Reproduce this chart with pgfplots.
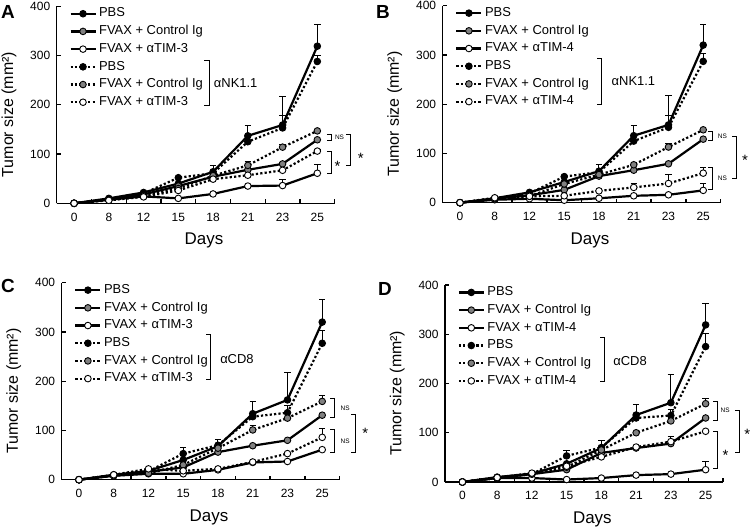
\documentclass[border=0pt]{standalone}
\usepackage{fontspec}
\setmainfont{Liberation Sans}
\usepackage{pgfplots}
\usepackage{pgfplotstable}
\pgfplotsset{compat=1.18}
\definecolor{mgray}{RGB}{128,128,128}

\pgfplotstableread{
x ps pse cs cse ts tse pd pde cd cde td tde
0 0 0 0 0 0 0 0 0 0 0 0 0
1 10 0 8 0 7 0 8 0 7 0 6 0
2 22 0 18 0 14 0 20 0 15 0 13 0
3 40 0 35 0 10 0 52 0 30 0 26 0
4 64 12 54 0 19 0 61 0 56 0 49 0
5 137 20 68 0 35 0 125 0 77 8 57 0
6 159 58 80 3 36 13 153 25 114 6 67 0
7 319 44 129 0 61 18 288 13 147 0 106 4
}\dataA
\pgfplotstableread{
x ps pse cs cse ts tse pd pde cd cde td tde
0 0 0 0 0 0 0 0 0 0 0 0 0
1 9 0 8 0 6 0 8 0 8 0 10 0
2 21 0 15 0 8 0 19 0 13 0 13 0
3 42 0 26 0 5 0 53 0 38 0 14 0
4 64 13 54 0 9 0 62 0 57 0 24 0
5 136 20 66 0 14 0 125 0 77 5 31 8
6 158 59 79 0 16 0 153 25 113 8 39 18
7 320 42 129 0 25 14 287 15 148 0 60 12
}\dataB
\pgfplotstableread{
x ps pse cs cse ts tse pd pde cd cde td tde
0 0 0 0 0 0 0 0 0 0 0 0 0
1 10 0 9 0 8 0 9 0 8 0 10 0
2 18 0 16 0 12 0 17 0 13 0 22 0
3 40 0 25 0 12 0 53 12 30 0 18 0
4 68 13 56 0 20 0 70 0 64 0 22 0
5 134 25 69 0 35 0 128 0 101 9 36 0
6 162 56 80 0 37 0 136 14 125 0 53 0
7 320 45 131 0 61 0 277 26 159 12 86 18
}\dataC
\pgfplotstableread{
x ps pse cs cse ts tse pd pde cd cde td tde
0 0 0 0 0 0 0 0 0 0 0 0 0
1 10 0 8 0 8 0 9 0 8 0 9 0
2 17 0 16 0 8 0 16 0 16 0 18 0
3 37 0 25 0 5 0 53 10 30 0 32 0
4 69 15 59 0 8 0 70 0 65 0 51 0
5 136 22 69 0 14 0 130 0 100 0 71 0
6 161 58 78 0 16 0 135 12 124 0 82 11
7 319 44 130 0 25 16 275 26 159 11 103 0
}\dataD

\pgfplotsset{
  solidline/.style={line width=2.2bp, black, solid},
  dotline/.style={line width=2.2bp, black, dash pattern=on 2.2bp off 2.2bp},
  mk/.style={mark=*, mark size=3.3bp, mark options={solid, draw=black, line width=0.9bp, fill=#1}},
  panel/.style={
    width=278bp, height=197bp, scale only axis,
    xmin=-0.5, xmax=7.5, ymin=0, ymax=400,
    axis x line*=bottom, axis y line*=left,
    xtick={0,...,7}, xticklabels={0,8,12,15,18,21,23,25},
    major x tick style={draw=none},
    minor xtick={0.5,1.5,...,7.5},
    ytick={0,100,200,300,400},
    tick align=inside,
    major tick length=4bp, minor tick length=4bp,
    axis line style={line width=1.3bp},
    every tick/.style={black, line width=1.3bp},
    tick label style={font=\fontsize{12}{12}\selectfont},
    xticklabel style={yshift=-6bp},
    yticklabel style={xshift=-3bp},
    /pgf/number format/assume math mode=true,
    xlabel={Days}, ylabel={Tumor size (mm²)},
    label style={font=\fontsize{16}{16}\selectfont},
    xlabel style={font=\fontsize{17}{17}\selectfont, at={(axis description cs:0.53,-0.19)}, anchor=center},
    ylabel style={at={(axis description cs:-0.172,0.45)}, anchor=center},
    clip=false,
    legend style={draw=none, fill=none, inner sep=0pt, row sep=5.6bp,
      font=\fontsize{13}{13}\selectfont,
      at={(axis description cs:0.045,0.994)}, anchor=north west,
      nodes={inner ysep=0pt, inner xsep=2.5bp, text height=9.3bp, text depth=2.8bp}},
    legend cell align=left,
    legend image code/.code={\draw[mark repeat=2,mark phase=2,#1] plot coordinates {(0bp,0bp) (12.5bp,0bp) (25bp,0bp)};},
    error bars/y dir=plus, error bars/y explicit,
    error bars/error mark=-,
    error bars/error bar style={line width=1bp, black, solid},
    error bars/error mark options={rotate=90, line width=1bp, mark size=3.2bp, black, solid},
  },
}
\tikzset{
  sig/.style={line width=0.8bp, black},
  nsf/.style={font=\fontsize{6.5}{7}\selectfont, inner sep=0pt},
  starf/.style={font=\fontsize{15}{15}\selectfont, inner sep=0pt, yshift=-3bp},
  grpf/.style={font=\fontsize{13}{13}\selectfont, inner sep=0pt, anchor=west},
  letf/.style={font=\fontsize{19}{19}\bfseries\selectfont, inner sep=0pt},
}
\newcommand{\brk}[3]{\draw[sig] ([xshift=-4.5bp]axis cs:#1,#2) -- (axis cs:#1,#2) -- (axis cs:#1,#3) -- ([xshift=-4.5bp]axis cs:#1,#3);}

\begin{document}
\begin{tikzpicture}
\useasboundingbox (0,0) rectangle (750bp,527bp);

% ---------- A ----------
\begin{axis}[panel, at={(56.7bp,323.7bp)}, anchor=south west,
  legend entries={PBS, FVAX + Control Ig, FVAX + αTIM-3, PBS, FVAX + Control Ig, FVAX + αTIM-3}]
\addplot[solidline, mk=black] table[x=x, y=ps, y error=pse] {\dataA};
\addplot[solidline, mk=mgray] table[x=x, y=cs, y error=cse] {\dataA};
\addplot[solidline, mk=white] table[x=x, y=ts, y error=tse] {\dataA};
\addplot[dotline, mk=black] table[x=x, y=pd, y error=pde] {\dataA};
\addplot[dotline, mk=mgray] table[x=x, y=cd, y error=cde] {\dataA};
\addplot[dotline, mk=white] table[x=x, y=td, y error=tde] {\dataA};
\brk{3.88}{289.5}{199.4}
\node[grpf] at (axis cs:4.02,244.9) {αNK1.1};
\brk{7.405}{140.5}{127}
\node[nsf] at (axis cs:7.64,134) {NS};
\brk{7.405}{105}{61}
\node[starf] at (axis cs:7.58,81) {*};
\brk{7.96}{140.5}{76}
\node[starf] at (axis cs:8.25,98) {*};
\end{axis}

% ---------- B ----------
\begin{axis}[panel, at={(442.6bp,324.3bp)}, anchor=south west,
  legend entries={PBS, FVAX + Control Ig, FVAX + αTIM-4, PBS, FVAX + Control Ig, FVAX + αTIM-4}]
\addplot[solidline, mk=black] table[x=x, y=ps, y error=pse] {\dataB};
\addplot[solidline, mk=mgray] table[x=x, y=cs, y error=cse] {\dataB};
\addplot[solidline, mk=white] table[x=x, y=ts, y error=tse] {\dataB};
\addplot[dotline, mk=black] table[x=x, y=pd, y error=pde] {\dataB};
\addplot[dotline, mk=mgray] table[x=x, y=cd, y error=cde] {\dataB};
\addplot[dotline, mk=white] table[x=x, y=td, y error=tde] {\dataB};
\brk{4.08}{292}{200}
\node[grpf] at (axis cs:4.36,246) {αNK1.1};
\brk{7.27}{145}{126}
\node[nsf] at (axis cs:7.55,135.5) {NS};
\brk{7.27}{72}{26}
\node[nsf] at (axis cs:7.55,49) {NS};
\brk{7.96}{135.5}{49}
\node[starf] at (axis cs:8.2,92) {*};
\end{axis}

% ---------- C ----------
\begin{axis}[panel, at={(61.6bp,47.3bp)}, anchor=south west,
  legend entries={PBS, FVAX + Control Ig, FVAX + αTIM-3, PBS, FVAX + Control Ig, FVAX + αTIM-3}]
\addplot[solidline, mk=black] table[x=x, y=ps, y error=pse] {\dataC};
\addplot[solidline, mk=mgray] table[x=x, y=cs, y error=cse] {\dataC};
\addplot[solidline, mk=white] table[x=x, y=ts, y error=tse] {\dataC};
\addplot[dotline, mk=black] table[x=x, y=pd, y error=pde] {\dataC};
\addplot[dotline, mk=mgray] table[x=x, y=cd, y error=cde] {\dataC};
\addplot[dotline, mk=white] table[x=x, y=td, y error=tde] {\dataC};
\brk{3.79}{295}{203.4}
\node[grpf] at (axis cs:4.06,246) {αCD8};
\brk{7.36}{166}{125.5}
\node[nsf] at (axis cs:7.66,146) {NS};
\brk{7.36}{101.7}{55.6}
\node[nsf] at (axis cs:7.66,79) {NS};
\brk{7.96}{132}{55.6}
\node[starf] at (axis cs:8.24,100) {*};
\end{axis}

% ---------- D ----------
\begin{axis}[panel, at={(445bp,45bp)}, anchor=south west,
  legend entries={PBS, FVAX + Control Ig, FVAX + αTIM-4, PBS, FVAX + Control Ig, FVAX + αTIM-4}]
\addplot[solidline, mk=black] table[x=x, y=ps, y error=pse] {\dataD};
\addplot[solidline, mk=mgray] table[x=x, y=cs, y error=cse] {\dataD};
\addplot[solidline, mk=white] table[x=x, y=ts, y error=tse] {\dataD};
\addplot[dotline, mk=black] table[x=x, y=pd, y error=pde] {\dataD};
\addplot[dotline, mk=mgray] table[x=x, y=cd, y error=cde] {\dataD};
\addplot[dotline, mk=white] table[x=x, y=td, y error=tde] {\dataD};
\brk{4.1}{294}{204}
\node[grpf] at (axis cs:4.34,244.7) {αCD8};
\brk{7.35}{163.5}{125}
\node[nsf] at (axis cs:7.56,145) {NS};
\brk{7.35}{102.7}{28.4}
\node[starf] at (axis cs:7.57,60) {*};
\brk{7.97}{145}{60}
\node[starf] at (axis cs:8.2,103) {*};
\end{axis}

\node[letf] at (8bp,515bp) {A};
\node[letf] at (383bp,515bp) {B};
\node[letf] at (8bp,241.5bp) {C};
\node[letf] at (385bp,238bp) {D};
\end{tikzpicture}
\end{document}
